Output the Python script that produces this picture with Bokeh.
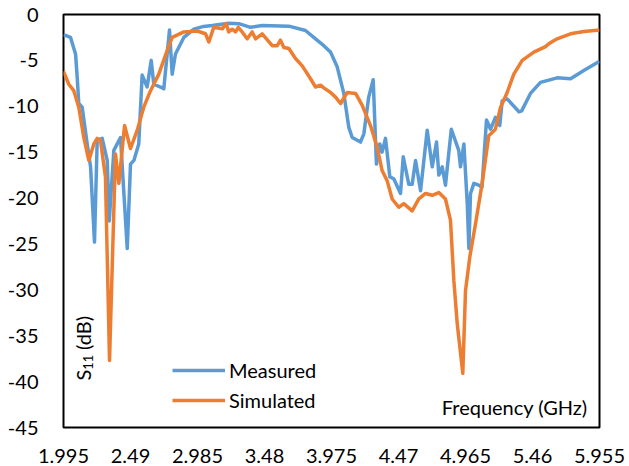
import math
from bokeh.plotting import figure
from bokeh.models import (Range1d, FixedTicker, CustomJSTickFormatter, Legend,
                          LegendItem, Label)
from bokeh.embed import file_html
from bokeh.resources import INLINE

# ---------------- data ----------------
x_ticks = [1.995, 2.49, 2.985, 3.48, 3.975, 4.47, 4.965, 5.46, 5.955]
y_ticks = [-45, -40, -35, -30, -25, -20, -15, -10, -5, 0]

meas_f = [1.995, 2.047, 2.084, 2.096, 2.108, 2.133, 2.170, 2.195, 2.224, 2.244,
          2.281, 2.318, 2.333, 2.367, 2.416, 2.466, 2.49, 2.515, 2.551, 2.576,
          2.613, 2.643, 2.662, 2.712, 2.736, 2.778, 2.798, 2.822, 2.884, 2.958,
          3.03, 3.094, 3.216, 3.29, 3.377, 3.463, 3.66, 3.783, 3.857, 3.918,
          3.968, 4.017, 4.066, 4.103, 4.128, 4.189, 4.214, 4.25, 4.283, 4.307,
          4.332, 4.349, 4.374, 4.406, 4.435, 4.485, 4.505, 4.546, 4.571, 4.596,
          4.633, 4.682, 4.719, 4.751, 4.768, 4.793, 4.817, 4.860, 4.915, 4.928,
          4.953, 4.978, 4.99, 5.002, 5.027, 5.063, 5.087, 5.12, 5.15, 5.186,
          5.218, 5.236, 5.273, 5.36, 5.38, 5.445, 5.519, 5.642, 5.741, 5.839,
          5.955]
meas_s11 = [-2.2, -2.5, -4.3, -6.8, -9.7, -10.1, -14.1, -16.6, -24.8, -13.7,
            -13.5, -15.9, -22.5, -14.8, -13.4, -25.5, -16.3, -15.9, -14.1, -6.6,
            -7.9, -5.0, -7.6, -7.9, -8.1, -1.7, -6.5, -4.3, -2.5, -1.6,
            -1.3, -1.2, -0.95, -1.0, -1.4, -1.2, -1.27, -1.74, -2.65, -3.4,
            -4.1, -5.7, -8.6, -12.3, -13.4, -13.9, -13.0, -9.0, -7.1, -16.3,
            -14.1, -15.0, -13.5, -17.7, -17.9, -19.5, -15.5, -18.5, -18.5, -15.9,
            -19.2, -12.6, -16.6, -13.9, -17.5, -16.6, -18.6, -12.5, -14.8, -16.6,
            -14.1, -20.6, -25.5, -19.5, -18.4, -18.6, -18.8, -11.5, -12.5, -11.2,
            -12.1, -9.4, -9.2, -10.6, -10.5, -8.6, -7.4, -6.9, -7.0, -6.1,
            -5.1]

sim_f = [1.995, 2.034, 2.071, 2.108, 2.145, 2.182, 2.219, 2.244, 2.268, 2.305,
         2.335, 2.379, 2.404, 2.446, 2.49, 2.54, 2.588, 2.638, 2.699, 2.761,
         2.798, 2.884, 2.983, 3.044, 3.069, 3.105, 3.168, 3.197, 3.216, 3.241,
         3.266, 3.286, 3.315, 3.352, 3.389, 3.414, 3.463, 3.537, 3.574, 3.598,
         3.623, 3.66, 3.709, 3.759, 3.82, 3.857, 3.894, 3.918, 3.968, 4.005,
         4.042, 4.091, 4.153, 4.202, 4.263, 4.313, 4.349, 4.386, 4.423, 4.472,
         4.509, 4.571, 4.62, 4.67, 4.719, 4.768, 4.817, 4.854, 4.879, 4.904,
         4.945, 4.965, 4.997, 5.039, 5.088, 5.137, 5.186, 5.224, 5.273, 5.322,
         5.384, 5.47, 5.556, 5.58, 5.642, 5.741, 5.839, 5.955]
sim_s11 = [-6.2, -7.6, -8.3, -10.1, -13.4, -15.9, -14.1, -13.5, -13.7, -17.7,
           -37.7, -15.2, -18.4, -12.1, -14.6, -12.6, -10.1, -8.3, -6.5, -3.9,
           -2.5, -1.9, -1.8, -2.1, -3.0, -1.4, -1.56, -1.0, -1.9, -1.6,
           -1.9, -1.4, -1.9, -2.65, -1.9, -2.65, -2.1, -3.4, -3.4, -2.8,
           -3.6, -3.7, -4.8, -5.6, -7.0, -7.9, -7.7, -8.0, -8.5, -9.0,
           -9.7, -8.5, -8.6, -9.9, -12.1, -14.5, -17.0, -18.1, -20.1, -21.0,
           -20.6, -21.4, -20.1, -19.5, -19.7, -19.4, -20.1, -22.4, -29.0, -33.7,
           -39.1, -30.1, -26.4, -22.8, -18.4, -13.2, -12.5, -10.1, -8.5, -6.5,
           -5.0, -4.1, -3.5, -3.2, -2.65, -2.1, -1.85, -1.7]

series_names = ["Measured", "Simulated"]
blue = "#5B9BD5"
orange = "#ED7D31"
FONT = "Lato"
FS = "20px"

# ---------------- figure ----------------
p = figure(frame_width=536, frame_height=413,
           min_border_left=63, min_border_right=30,
           min_border_top=14, min_border_bottom=39,
           x_range=Range1d(x_ticks[0], x_ticks[-1]),
           y_range=Range1d(y_ticks[0], y_ticks[-1]),
           output_backend="svg", toolbar_location=None)
p.background_fill_color = "white"
p.border_fill_color = "white"
p.outline_line_color = "black"
p.outline_line_width = 2
p.xgrid.visible = False
p.ygrid.visible = False

r_meas = p.line(meas_f, meas_s11, line_color=blue, line_width=3.5,
                line_join="round")
r_sim = p.line(sim_f, sim_s11, line_color=orange, line_width=3.5,
               line_join="round")

for ax in (p.xaxis[0], p.yaxis[0]):
    ax.axis_line_color = None
    ax.major_tick_line_color = None
    ax.minor_tick_line_color = None
    ax.major_label_text_font = FONT
    ax.major_label_text_font_size = FS
    ax.major_label_text_color = "black"

p.xaxis[0].ticker = FixedTicker(ticks=x_ticks)
p.yaxis[0].ticker = FixedTicker(ticks=y_ticks)
p.xaxis[0].formatter = CustomJSTickFormatter(
    code="return String(parseFloat(tick.toFixed(3)));")
p.yaxis[0].formatter = CustomJSTickFormatter(
    code="return String(Math.round(tick));")
p.xaxis[0].major_label_standoff = 15
p.yaxis[0].major_label_standoff = 19

legend = Legend(items=[LegendItem(label=series_names[0], renderers=[r_meas]),
                       LegendItem(label=series_names[1], renderers=[r_sim])],
                location=(109, 15), orientation="vertical",
                padding=0, margin=0, spacing=6,
                glyph_width=53, glyph_height=20, label_height=20,
                label_standoff=4,
                label_text_font=FONT, label_text_font_size=FS,
                label_text_color="black",
                border_line_color=None, background_fill_alpha=0)
p.add_layout(legend)

# axis titles inside the frame
p.add_layout(Label(x=4.79, y=-42.75, text="Frequency (GHz)",
                   text_font=FONT, text_font_size=FS, text_color="black",
                   text_align="left", text_baseline="alphabetic"))
p.add_layout(Label(x=2.1425, y=-39.88, text="S", angle=math.pi / 2,
                   text_font=FONT, text_font_size=FS, text_color="black",
                   text_align="left", text_baseline="alphabetic"))
p.add_layout(Label(x=2.175, y=-38.7, text="11", angle=math.pi / 2,
                   text_font=FONT, text_font_size="13px", text_color="black",
                   text_align="left", text_baseline="alphabetic"))
p.add_layout(Label(x=2.1425, y=-36.55, text="(dB)", angle=math.pi / 2,
                   text_font=FONT, text_font_size=FS, text_color="black",
                   text_align="left", text_baseline="alphabetic"))

open("out.html", "w").write(file_html(p, INLINE))
